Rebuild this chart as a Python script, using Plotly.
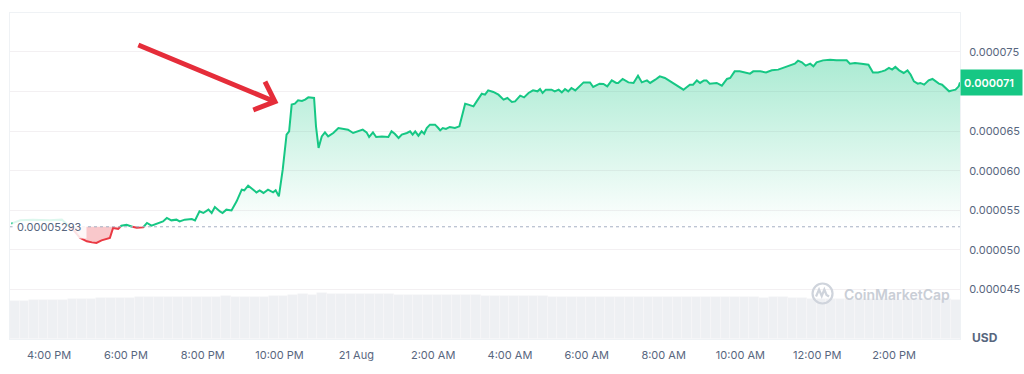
import numpy as np
import pandas as pd
import plotly.graph_objects as go

# ---------------- data ----------------
base_price_micro = 52.93   # reference (open) price, in 1e-6 USD

times_aug20 = ["15:01", "15:15", "15:35", "16:01", "16:20", "16:28", "16:40", "16:48", "16:59", "17:07",
               "17:14", "17:22", "17:30", "17:35", "17:40", "17:48", "17:53", "18:01", "18:09", "18:17",
               "18:27", "18:33", "18:40", "18:48", "18:58", "19:04", "19:11", "19:19", "19:24", "19:32",
               "19:43", "19:48", "19:55", "20:01", "20:09", "20:14", "20:19", "20:27", "20:31", "20:37",
               "20:45", "20:53", "21:01", "21:05", "21:11", "21:19", "21:24", "21:29", "21:35", "21:42",
               "21:50", "21:54", "21:59", "22:05", "22:11", "22:15", "22:19", "22:24", "22:29", "22:35",
               "22:40", "22:45", "22:54", "22:57", "23:01", "23:06", "23:11", "23:16", "23:24", "23:32",
               "23:40", "23:47", "23:55"]
prices_aug20 = [53.32, 53.74, 53.83, 53.74, 53.83, 53.19, 52.35, 51.55, 51.09, 50.96,
                50.88, 51.21, 51.39, 51.52, 52.78, 52.65, 53.07, 53.19, 52.95, 52.80,
                52.85, 53.41, 53.07, 53.32, 53.61, 54.04, 53.74, 53.83, 53.61, 53.83,
                53.91, 53.74, 54.87, 54.67, 55.09, 54.67, 55.43, 54.87, 54.67, 55.09,
                55.00, 56.14, 57.61, 57.53, 58.12, 57.61, 57.27, 57.53, 57.20, 57.61,
                57.27, 57.53, 56.77, 60.14, 64.56, 64.98, 68.35, 68.47, 68.89, 68.81,
                68.98, 69.27, 69.19, 65.61, 62.88, 64.34, 64.85, 64.34, 64.77, 65.40,
                65.28, 65.19, 64.77]

times_aug21 = ["00:03", "00:10", "00:16", "00:20", "00:26", "00:31", "00:40", "00:50", "00:55", "01:00",
               "01:06", "01:11", "01:19", "01:24", "01:28", "01:32", "01:37", "01:42", "01:46", "01:50",
               "01:55", "02:03", "02:08", "02:11", "02:15", "02:20", "02:26", "02:34", "02:41", "02:50",
               "02:55", "03:03", "03:08", "03:16", "03:21", "03:26", "03:34", "03:42", "03:50", "03:56",
               "04:03", "04:08", "04:16", "04:22", "04:29", "04:36", "04:43", "04:47", "04:51", "04:56",
               "05:05", "05:10", "05:16", "05:21", "05:26", "05:31", "05:36", "05:42", "05:55", "06:05",
               "06:10", "06:20", "06:26", "06:32", "06:39", "06:46", "06:49", "06:56", "07:05", "07:13",
               "07:20", "07:26", "07:34", "07:39", "07:47", "07:54", "08:02", "08:15", "08:31", "08:41",
               "08:46", "08:52", "08:57", "09:03", "09:07", "09:12", "09:23", "09:31", "09:39", "09:44",
               "09:51", "09:59", "10:07", "10:15", "10:20", "10:31", "10:40", "10:49", "10:59", "11:07",
               "11:15", "11:25", "11:30", "11:36", "11:42", "11:49", "11:54", "11:59", "12:09", "12:20",
               "12:30", "12:38", "12:46", "12:51", "12:59", "13:09", "13:20", "13:27", "13:35", "13:41",
               "13:46", "13:52", "13:57", "14:02", "14:08", "14:15", "14:21", "14:26", "14:31", "14:37",
               "14:41", "14:47", "14:54", "15:00", "15:05", "15:10", "15:15", "15:20", "15:26", "15:31",
               "15:36", "15:41", "15:43"]
prices_aug21 = [64.98, 65.19, 64.85, 64.27, 64.85, 64.27, 64.34, 64.27, 64.98, 64.68,
                64.14, 64.56, 64.77, 64.98, 64.56, 64.98, 64.43, 64.98, 64.68, 65.40,
                65.82, 65.82, 65.40, 65.10, 65.40, 65.28, 65.53, 65.40, 65.61, 68.47,
                68.35, 68.13, 68.76, 69.73, 69.61, 70.15, 69.95, 69.61, 68.98, 69.19,
                68.69, 68.76, 69.48, 69.27, 69.82, 70.15, 70.03, 70.33, 69.82, 70.24,
                70.24, 70.03, 70.24, 69.90, 70.33, 70.03, 70.45, 70.15, 71.16, 71.16,
                70.58, 71.00, 70.96, 70.66, 71.41, 71.09, 71.09, 71.59, 71.16, 71.09,
                72.01, 71.16, 71.41, 71.09, 71.50, 71.92, 71.72, 71.09, 70.24, 70.87,
                70.87, 71.41, 71.09, 71.41, 71.41, 71.00, 71.09, 70.75, 71.59, 71.72,
                72.55, 72.55, 72.42, 72.26, 72.55, 72.55, 72.42, 72.68, 72.77, 72.98,
                73.27, 73.52, 73.90, 73.69, 73.27, 73.52, 73.18, 73.69, 73.94, 74.03,
                73.94, 73.94, 73.94, 73.52, 73.61, 73.52, 73.40, 72.42, 72.42, 72.55,
                72.68, 72.98, 72.77, 73.11, 72.68, 72.35, 72.68, 72.13, 71.29, 71.00,
                71.09, 70.87, 71.41, 71.59, 71.29, 71.00, 70.87, 70.45, 70.03, 70.15,
                70.24, 70.66, 71.16]

# relative 15-minute volume (arbitrary units)
volume_start = "2023-08-20 15:06:30"
volumes = [38.3, 38.5, 38.8,
           39.2, 39.5, 39.4, 39.8, 40.0, 40.3,
           40.8, 41.2, 41.0, 41.5, 41.6, 41.8,
           42.0, 42.3, 42.1, 42.4, 42.2, 42.5, 42.3, 42.6, 42.4, 42.2, 42.5, 42.3, 42.6,
           43.5,
           44.3, 44.6, 44.5,
           45.8,
           45.2, 45.0, 45.1, 44.9, 45.0, 45.2, 45.0,
           44.2, 44.0, 44.1, 43.9, 44.0, 44.2, 44.0, 43.9, 44.0,
           43.4, 43.3, 43.2, 43.4, 43.3, 43.2, 43.0,
           42.4, 42.3, 42.2, 42.4, 42.3, 42.2, 42.3, 42.4, 42.2, 42.3, 42.1, 42.2,
           41.8, 41.7, 41.6, 41.8, 41.7, 41.6, 41.7, 41.8, 41.6, 41.7, 41.5, 41.7, 41.6, 41.5, 41.4,
           39.8, 39.7, 39.9, 39.6, 39.8, 39.7, 39.6, 39.8, 39.7, 39.5, 39.6, 39.7, 39.8, 39.6, 39.7, 39.5]

tick_times = ["2023-08-20 16:00", "2023-08-20 18:00", "2023-08-20 20:00", "2023-08-20 22:00",
              "2023-08-21 00:00", "2023-08-21 02:00", "2023-08-21 04:00", "2023-08-21 06:00",
              "2023-08-21 08:00", "2023-08-21 10:00", "2023-08-21 12:00", "2023-08-21 14:00"]
tick_labels = ["4:00 PM", "6:00 PM", "8:00 PM", "10:00 PM", "21 Aug", "2:00 AM", "4:00 AM",
               "6:00 AM", "8:00 AM", "10:00 AM", "12:00 PM", "2:00 PM"]
price_ticks = [0.000045, 0.000050, 0.000055, 0.000060, 0.000065, 0.000070, 0.000075]
# the 0.000070 label is hidden behind the last-price tag
price_tick_labels = ["0.000045", "0.000050", "0.000055", "0.000060", "0.000065", "", "0.000075"]

# ---------------- prep ----------------
GREEN = "#16c784"
RED = "#ea3943"
GREY = "#58667e"

base = base_price_micro * 1e-6
t = list(pd.to_datetime(["2023-08-20 " + s for s in times_aug20] + ["2023-08-21 " + s for s in times_aug21]))
p = [v * 1e-6 for v in prices_aug20 + prices_aug21]

# add baseline crossing points so the colour switch happens exactly on the baseline
xs, ys = [], []
for i in range(len(p)):
    xs.append(t[i]); ys.append(p[i])
    if i < len(p) - 1 and (p[i] - base) * (p[i + 1] - base) < 0:
        f = (base - p[i]) / (p[i + 1] - p[i])
        xs.append(t[i] + (t[i + 1] - t[i]) * f); ys.append(base)

green_fill = [max(v, base) for v in ys]
red_fill = [min(v, base) for v in ys]
green_line = [v if v >= base else None for v in ys]
red_line = [v if v <= base else None for v in ys]
base_line = [base] * len(xs)

vol_x = pd.date_range(volume_start, periods=len(volumes), freq="15min")

fig = go.Figure()
fig.add_trace(go.Bar(x=vol_x, y=volumes, yaxis="y2", marker=dict(color="#eef0f3", line=dict(color="#f6f7f9", width=0.6)),
                     hoverinfo="skip"))
fig.add_trace(go.Scatter(x=xs, y=base_line, mode="lines", line=dict(width=0), hoverinfo="skip"))
fig.add_trace(go.Scatter(x=xs, y=green_fill, mode="lines", line=dict(width=0), fill="tonexty",
                         fillgradient=dict(type="vertical",
                                           colorscale=[[0, "rgba(22,199,132,0.0)"], [1, "rgba(22,199,132,0.36)"]]),
                         hoverinfo="skip"))
fig.add_trace(go.Scatter(x=xs, y=base_line, mode="lines", line=dict(width=0), hoverinfo="skip"))
fig.add_trace(go.Scatter(x=xs, y=red_fill, mode="lines", line=dict(width=0), fill="tonexty",
                         fillcolor="rgba(234,57,67,0.28)", hoverinfo="skip"))
fig.add_trace(go.Scatter(x=xs, y=green_line, mode="lines", line=dict(color=GREEN, width=2), connectgaps=False))
fig.add_trace(go.Scatter(x=xs, y=red_line, mode="lines", line=dict(color=RED, width=2), connectgaps=False))

x_range = ["2023-08-20 14:59", "2023-08-21 15:43"]

shapes = [
    # baseline dotted line
    dict(type="line", xref="paper", yref="y", x0=0, x1=1, y0=base, y1=base,
         line=dict(color="#a6b0c3", width=1, dash="dot")),
    # red arrow
    dict(type="path", xref="paper", yref="paper",
         path="M 0.1351 0.9018 L 0.2789 0.7279 M 0.2684 0.7893 L 0.2789 0.7279 L 0.2561 0.7025",
         line=dict(color="#e52d3a", width=5)),
    # watermark logo
    dict(type="circle", xref="paper", yref="paper", xsizemode="pixel", ysizemode="pixel",
         xanchor=0.8553, yanchor=0.1396, x0=-10, x1=10, y0=-10, y1=10,
         line=dict(color="#cfd4dc", width=2.2)),
    dict(type="path", xref="paper", yref="paper", xsizemode="pixel", ysizemode="pixel",
         xanchor=0.8553, yanchor=0.1396,
         path="M -6.5 -3 L -3.5 4 L -0.8 -2.5 L 1.8 4 L 4 -1.5 L 6.5 -3",
         line=dict(color="#cfd4dc", width=2.2)),
]

annotations = [
    dict(xref="paper", yref="y", x=0, y=base, xanchor="left", yanchor="middle", xshift=2,
         text="0.00005293", showarrow=False, bgcolor="rgba(255,255,255,0.85)", borderpad=4,
         font=dict(size=11, color=GREY, family="Inter")),
    dict(xref="paper", yref="y", x=1, y=p[-1], xanchor="left", yanchor="middle",
         text=f"{p[-1]:.6f}", showarrow=False, bgcolor=GREEN, borderpad=3, width=55, height=19, align="left",
         font=dict(size=11, color="white", family="Inter", weight=600)),
    dict(xref="paper", yref="paper", x=1.0263, y=0.006, xanchor="center", yanchor="middle",
         text="USD", showarrow=False, font=dict(size=12, color=GREY, family="Inter", weight=700)),
    dict(xref="paper", yref="paper", x=0.8758, y=0.138, xanchor="left", yanchor="middle",
         text="CoinMarketCap", showarrow=False, font=dict(size=14, color="#c9ced6", family="Inter", weight=600)),
]

fig.update_layout(
    width=1024, height=374,
    margin=dict(l=10, r=64, t=13, b=35, autoexpand=False),
    paper_bgcolor="white", plot_bgcolor="white",
    showlegend=False,
    font=dict(family="Inter", size=11, color=GREY),
    bargap=0,
    xaxis=dict(type="date", range=x_range, tickvals=tick_times, ticktext=tick_labels,
               showgrid=False, zeroline=False, showline=True, mirror=True, linecolor="#eff2f5",
               ticks="", ticklabelstandoff=6, tickfont=dict(size=11, color=GREY), automargin=False),
    yaxis=dict(side="right", range=[0.00003876, 0.00007992], tickvals=price_ticks, ticktext=price_tick_labels,
               showgrid=True, gridcolor="#f3f0f2", zeroline=False, showline=True, mirror=True,
               linecolor="#eff2f5", ticks="", ticklabelstandoff=6, tickfont=dict(size=11, color=GREY),
               automargin=False),
    yaxis2=dict(overlaying="y", range=[0, 326], visible=False),
    shapes=shapes,
    annotations=annotations,
)

fig.write_html("out.html", config={"displayModeBar": False})
